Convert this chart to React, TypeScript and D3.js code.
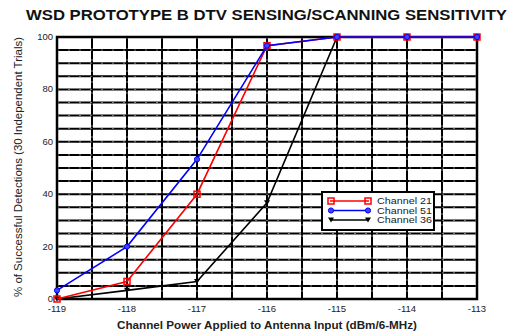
import React from "react";
import * as d3 from "d3";

const xValues = [-119, -118, -117, -116, -115, -114, -113];
const channel21 = [0, 6.7, 40, 96.7, 100, 100, 100];
const channel51 = [3.3, 20, 53.3, 96.7, 100, 100, 100];
const channel36 = [0, 3.3, 6.7, 36.7, 100, 100, 100];
const xTicks = [-119, -118, -117, -116, -115, -114, -113];
const yTicks = [0, 20, 40, 60, 80, 100];
const seriesNames = ["Channel 21", "Channel 51", "Channel 36"];
const seriesColors = ["#ff0000", "#0000ff", "#000000"];

const W = 508, H = 335;
const left = 57, right = 477, top = 37, bottom = 299;

export default function App() {
  const x = d3.scaleLinear().domain([-119, -113]).range([left, right]);
  const y = d3.scaleLinear().domain([0, 100]).range([bottom, top]);
  const line = d3.line<[number, number]>().x(d => x(d[0])).y(d => y(d[1]));
  const series = [channel21, channel51, channel36];
  const vGrid = d3.range(-119, -112.99, 0.5);
  const hGrid = d3.range(0, 100.01, 5);

  const marker = (i: number, cx: number, cy: number, key: string) => {
    if (i === 0) return <rect key={key} x={cx - 3} y={cy - 3} width={6} height={6} fill="none" stroke="#ff0000" strokeWidth={1.5} />;
    if (i === 1) return <circle key={key} cx={cx} cy={cy} r={2.6} fill="#4040ff" stroke="#0000ff" strokeWidth={1} />;
    return <path key={key} d={`M${cx - 3},${cy - 2.5}L${cx + 3},${cy - 2.5}L${cx},${cy + 2.5}Z`} fill="#000" />;
  };

  return (
    <svg width={W} height={H} style={{ position: "absolute", left: 0, top: 0, background: "#fff" }} fontFamily="'Liberation Sans', Arial, sans-serif">
      <text x={26} y={20} fontSize={14.5} fontWeight="bold" fill="#111" textLength={481} lengthAdjust="spacingAndGlyphs">WSD PROTOTYPE B DTV SENSING/SCANNING SENSITIVITY</text>
      {vGrid.map((v, i) => (
        <g key={"v" + i}>
          <line x1={x(v)} x2={x(v)} y1={top} y2={bottom} stroke="#000" strokeWidth={2} />
          <line x1={x(v)} x2={x(v)} y1={top} y2={bottom} stroke="#fff" strokeWidth={0.6} strokeDasharray="2 9" opacity={0.8} />
        </g>
      ))}
      {hGrid.map((v, i) => (
        <g key={"h" + i}>
          <line x1={left} x2={right} y1={y(v)} y2={y(v)} stroke="#000" strokeWidth={2} />
          <line x1={left} x2={right} y1={y(v)} y2={y(v)} stroke="#fff" strokeWidth={0.6} strokeDasharray="2 9" opacity={0.8} />
        </g>
      ))}
      <rect x={left} y={top} width={right - left} height={bottom - top} fill="none" stroke="#000" strokeWidth={2.5} />
      {[2, 0, 1].map(si => (
        <g key={"s" + si}>
          <path d={line(xValues.map((xv, j) => [xv, series[si][j]] as [number, number])) || ""} fill="none" stroke={seriesColors[si]} strokeWidth={1.6} />
          {xValues.map((xv, j) => marker(si, x(xv), y(series[si][j]), `m${si}-${j}`))}
        </g>
      ))}
      {xTicks.map(t => (
        <text key={"xt" + t} x={x(t)} y={312} textAnchor="middle" fontSize={9.5} fill="#222">{t}</text>
      ))}
      {yTicks.map(t => (
        <text key={"yt" + t} x={53} y={y(t) + 3} textAnchor="end" fontSize={9.5} fill="#222">{t}</text>
      ))}
      <text x={117} y={329} fontSize={10} fontWeight="bold" fill="#222" textLength={300} lengthAdjust="spacingAndGlyphs">Channel Power Applied to Antenna Input (dBm/6-MHz)</text>
      <text transform={`translate(22,297) rotate(-90)`} fontSize={10.5} fill="#222" textLength={260} lengthAdjust="spacingAndGlyphs">% of Successful Detections (30 Independent Trials)</text>
      <g>
        <rect x={322} y={192} width={112} height={38} fill="#fff" stroke="#000" strokeWidth={2} />
        {seriesNames.map((n, i) => {
          const ly = 201 + i * 9.5;
          return (
            <g key={"lg" + i}>
              <line x1={330} x2={369} y1={ly} y2={ly} stroke={seriesColors[i]} strokeWidth={1.6} />
              {marker(i, 331, ly, "lm1" + i)}
              {marker(i, 368, ly, "lm2" + i)}
              <text x={377} y={ly + 3} fontSize={9} fill="#222" textLength={55} lengthAdjust="spacingAndGlyphs">{n}</text>
            </g>
          );
        })}
      </g>
    </svg>
  );
}
